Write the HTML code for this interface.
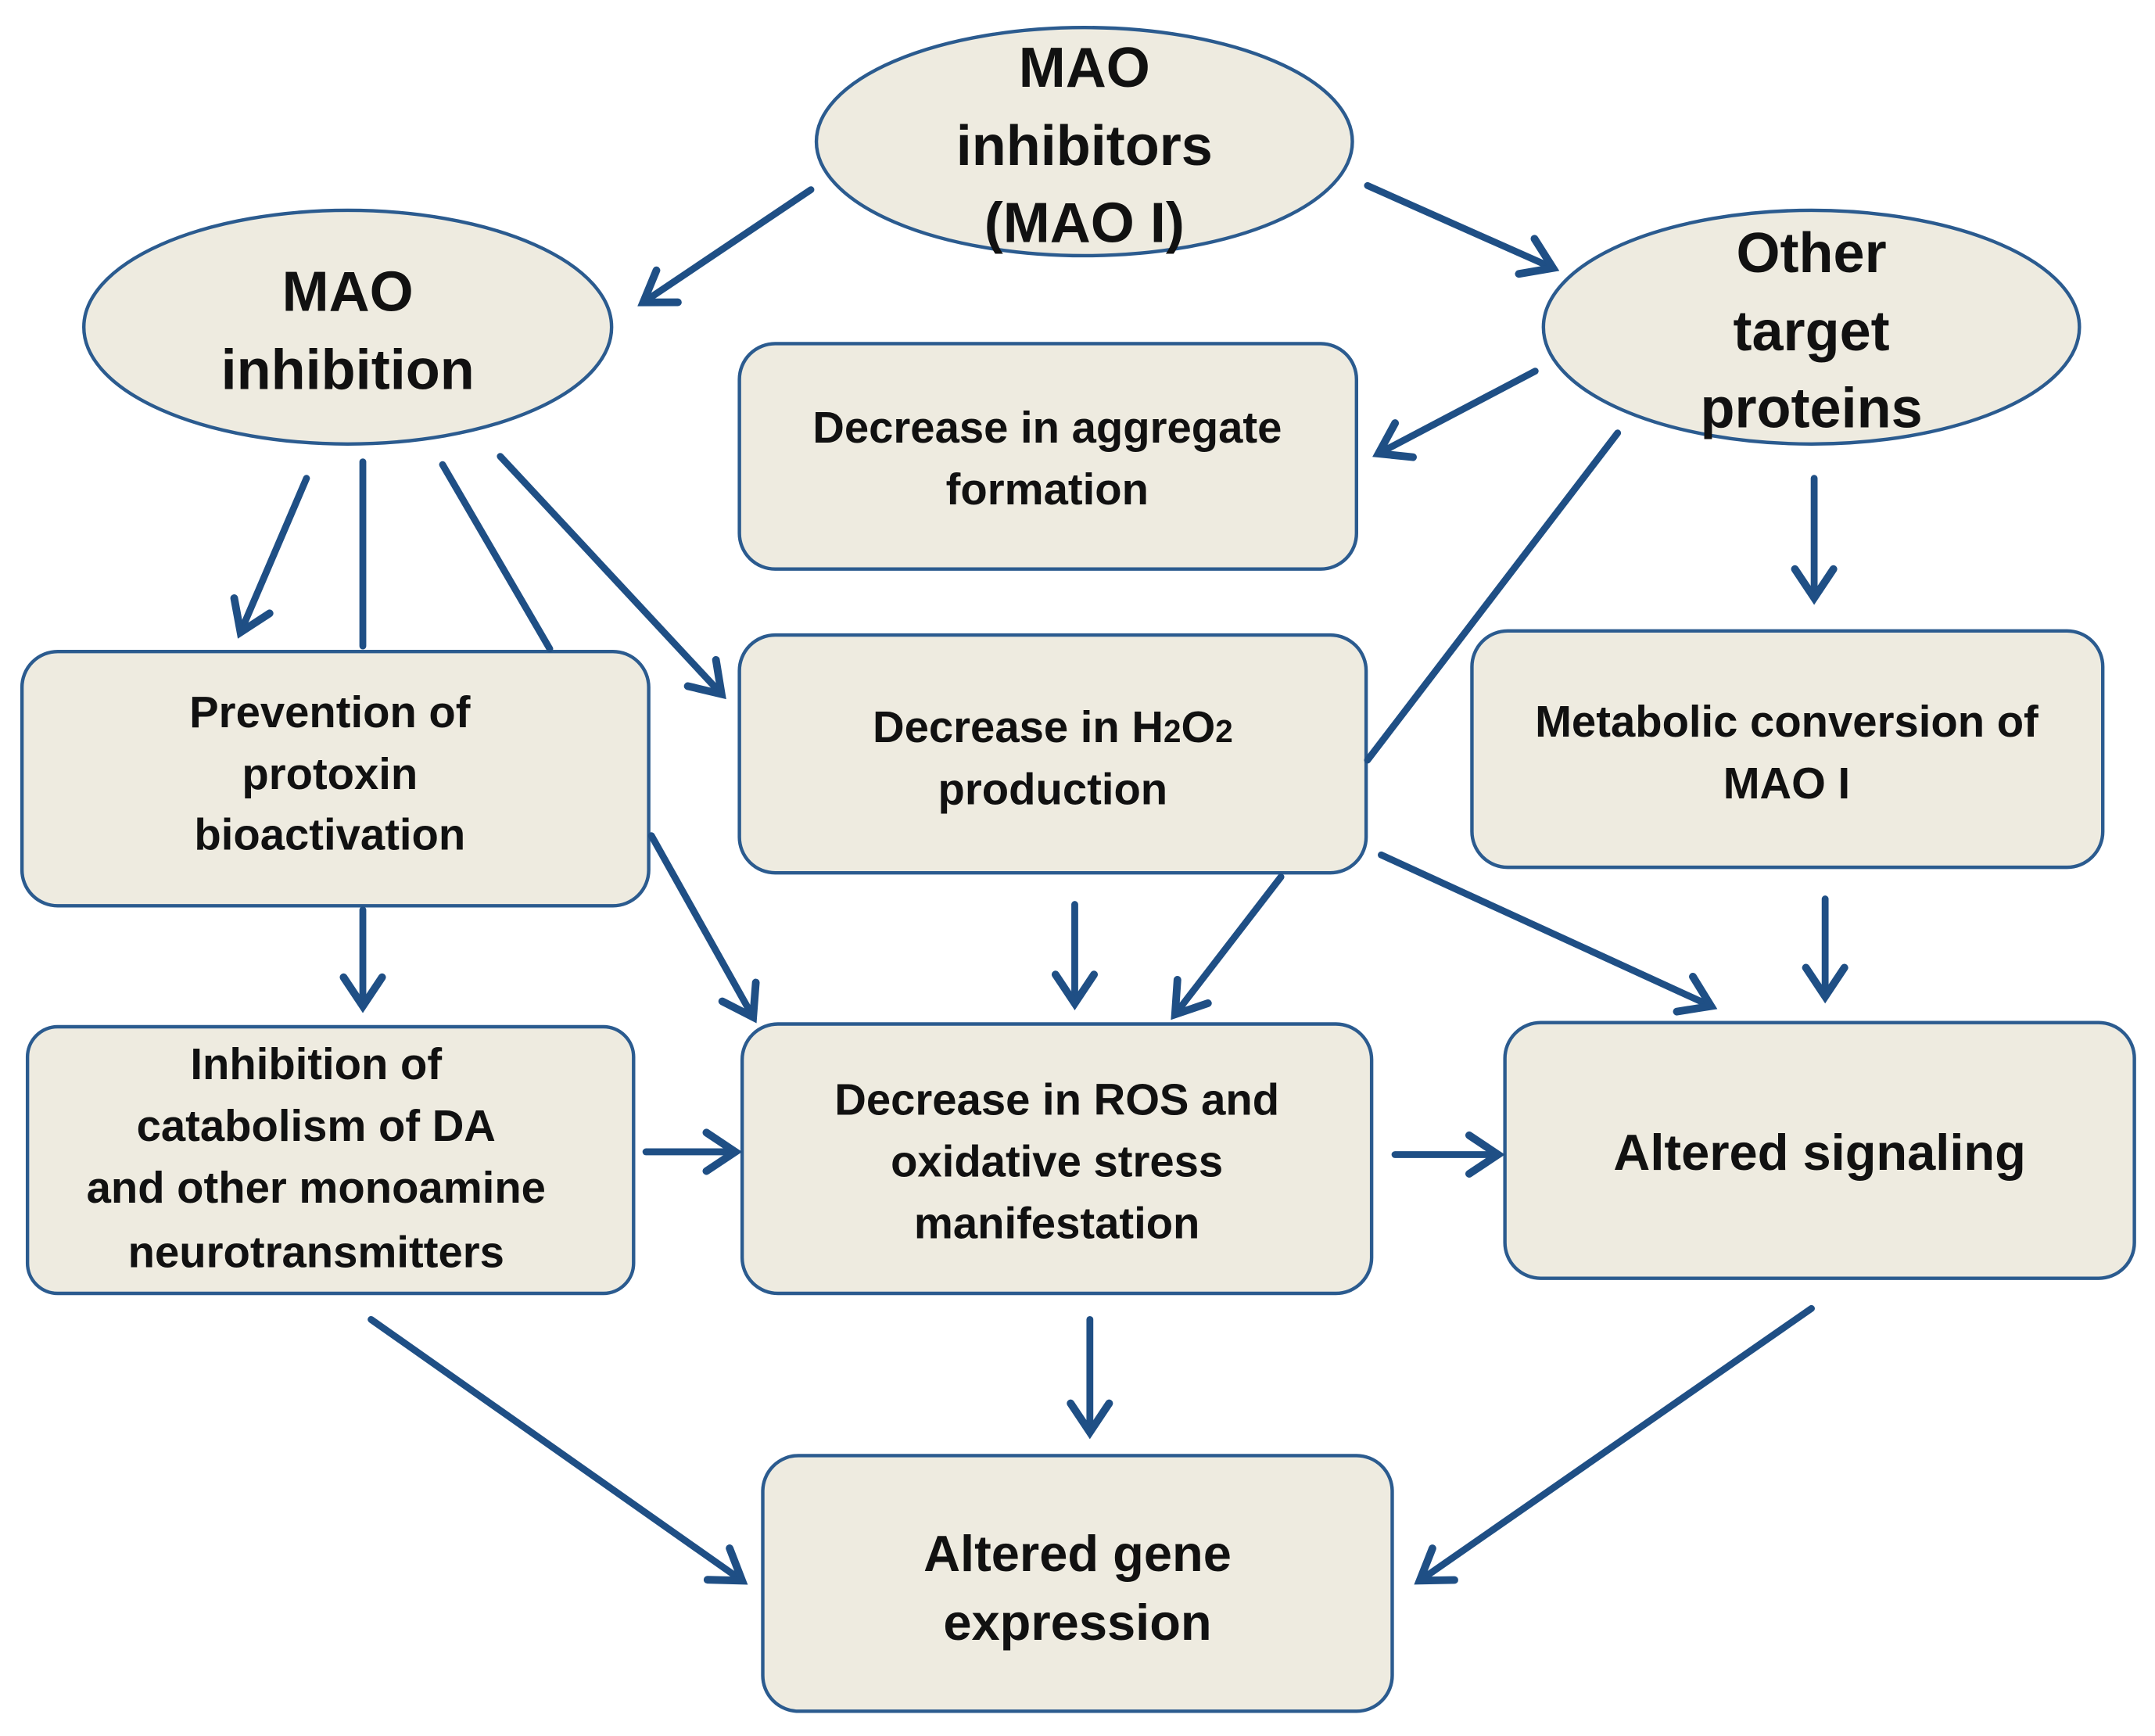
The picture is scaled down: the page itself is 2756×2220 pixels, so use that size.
<!DOCTYPE html>
<html><head><meta charset="utf-8"><style>
html,body{margin:0;padding:0;background:#fff;}
svg{display:block;}
text{font-family:"Liberation Sans",sans-serif;font-weight:bold;fill:#111;text-anchor:middle;}
</style></head><body>
<svg width="2756" height="2220" viewBox="0 0 1568 1263" xmlns="http://www.w3.org/2000/svg">
<defs>
<marker id="a" viewBox="0 0 20 20" refX="16" refY="10" markerWidth="7" markerHeight="7" orient="auto" markerUnits="strokeWidth">
<polyline points="4,2 16,10 4,18" fill="none" stroke="#1f4f85" stroke-width="3.2" stroke-linecap="round"/>
</marker>
</defs>
<g fill="#eeebe0" stroke="#2b5b8f" stroke-width="2.5">
<ellipse cx="789" cy="103" rx="195" ry="83"/>
<ellipse cx="253" cy="238" rx="192" ry="85"/>
<ellipse cx="1318" cy="238" rx="195" ry="85"/>
<rect x="538" y="250" width="449" height="164" rx="26"/>
<rect x="16" y="474" width="456" height="185" rx="26"/>
<rect x="538" y="462" width="456" height="173" rx="26"/>
<rect x="1071" y="459" width="459" height="172" rx="26"/>
<rect x="20" y="747" width="441" height="194" rx="22"/>
<rect x="540" y="745" width="458" height="196" rx="26"/>
<rect x="1095" y="744" width="458" height="186" rx="26"/>
<rect x="555" y="1059" width="458" height="186" rx="26"/>
</g>
<g stroke="#1f4f85" stroke-width="5" fill="none" stroke-linecap="round">
<line x1="590" y1="138" x2="468" y2="220" marker-end="url(#a)"/>
<line x1="995" y1="135" x2="1130" y2="195" marker-end="url(#a)"/>
<line x1="1117" y1="270" x2="1003" y2="330" marker-end="url(#a)"/>
<line x1="223" y1="348" x2="175" y2="460" marker-end="url(#a)"/>
<line x1="264" y1="336" x2="264" y2="470"/>
<line x1="322" y1="338" x2="400" y2="472"/>
<line x1="364" y1="332" x2="525" y2="505" marker-end="url(#a)"/>
<line x1="1177" y1="315" x2="995" y2="553"/>
<line x1="1320" y1="348" x2="1320" y2="435" marker-end="url(#a)"/>
<line x1="264" y1="662" x2="264" y2="732" marker-end="url(#a)"/>
<line x1="474" y1="608" x2="548" y2="740" marker-end="url(#a)"/>
<line x1="782" y1="658" x2="782" y2="730" marker-end="url(#a)"/>
<line x1="932" y1="638" x2="855" y2="738" marker-end="url(#a)"/>
<line x1="1005" y1="622" x2="1245" y2="732" marker-end="url(#a)"/>
<line x1="1328" y1="654" x2="1328" y2="725" marker-end="url(#a)"/>
<line x1="470" y1="838" x2="535" y2="838" marker-end="url(#a)"/>
<line x1="1015" y1="840" x2="1090" y2="840" marker-end="url(#a)"/>
<line x1="793" y1="960" x2="793" y2="1042" marker-end="url(#a)"/>
<line x1="270" y1="960" x2="540" y2="1150" marker-end="url(#a)"/>
<line x1="1318" y1="952" x2="1033" y2="1150" marker-end="url(#a)"/>
</g>
<g font-size="41">
<text x="789" y="63">MAO</text>
<text x="789" y="120">inhibitors</text>
<text x="789" y="176">(MAO I)</text>
<text x="253" y="226">MAO</text>
<text x="253" y="283">inhibition</text>
<text x="1318" y="198">Other</text>
<text x="1318" y="255">target</text>
<text x="1318" y="311">proteins</text>
</g>
<g font-size="37">
<text x="1324" y="851">Altered signaling</text>
<text x="784" y="1143">Altered gene</text>
<text x="784" y="1193">expression</text>
</g>
<g font-size="32">
<text x="762" y="322">Decrease in aggregate</text>
<text x="762" y="367">formation</text>
<text x="240" y="529">Prevention of</text>
<text x="240" y="574">protoxin</text>
<text x="240" y="618">bioactivation</text>
<text x="766" y="540">Decrease in H<tspan font-size="23">2</tspan>O<tspan font-size="23">2</tspan></text>
<text x="766" y="585">production</text>
<text x="1300" y="536">Metabolic conversion of</text>
<text x="1300" y="581">MAO I</text>
<text x="230" y="785">Inhibition of</text>
<text x="230" y="830">catabolism of DA</text>
<text x="230" y="875">and other monoamine</text>
<text x="230" y="922">neurotransmitters</text>
<text x="769" y="811">Decrease in ROS and</text>
<text x="769" y="856">oxidative stress</text>
<text x="769" y="901">manifestation</text>
</g>
</svg>
</body></html>
